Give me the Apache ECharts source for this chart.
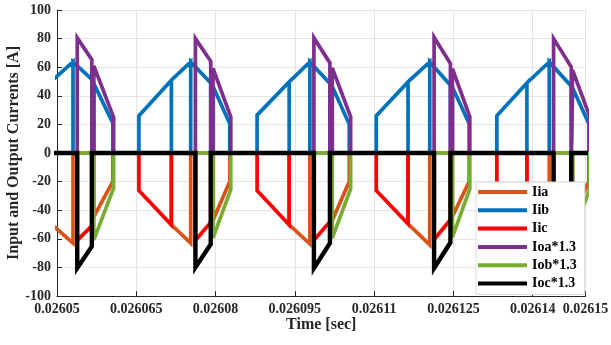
<!DOCTYPE html>
<html>
<head>
<meta charset="utf-8">
<title>Input and Output Currents</title>
<script src="https://cdn.jsdelivr.net/npm/echarts@6/dist/echarts.min.js"></script>
<style>
  html, body { margin: 0; padding: 0; background: #ffffff; }
  #chart { width: 611px; height: 345px; }
</style>
</head>
<body>
<div id="chart"></div>
<script>
// Time axis origin in seconds; sample times below are microseconds after it.
const T0 = 0.02605;

// Tick labels of the time axis (one every 15 us, plus the axis end).
const xTickLabels = ['0.02605', '0.026065', '0.02608', '0.026095', '0.02611', '0.026125', '0.02614', '0.02615'];

// Legend / series names.
const seriesNames = ['Iia', 'Iib', 'Iic', 'Ioa*1.3', 'Iob*1.3', 'Ioc*1.3'];

// Input current phase a  [time (us after T0), current (A)]
const iia = [
  [-1.5, 0], [-0.8, 0], [-0.8, -50.5], [3.03, -63], [3.03, 0], [6.97, 0], [6.97, -44.4], [10.57, -20], [10.57, 0],
  [21.64, 0], [21.64, -50.2], [25.30, -63], [25.30, 0], [29.52, 0], [29.52, -47], [32.69, -20], [32.69, 0],
  [43.93, 0], [43.93, -50.2], [47.85, -63.5], [47.85, 0], [52.08, 0], [52.08, -47.2], [55.30, -20], [55.30, 0],
  [66.42, 0], [66.42, -49.5], [70.53, -64.2], [70.53, 0], [74.82, 0], [74.82, -44.4], [77.98, -20], [77.98, 0],
  [88.91, 0], [88.91, -49.5], [93.14, -64], [93.14, 0], [97.56, 0], [97.56, -44.5], [100.63, -20], [100.63, 0], [101.5, 0]
];

// Input current phase b
const iib = [
  [-1.5, 0], [-0.8, 0], [-0.8, 51], [3.03, 63.7], [3.03, 0], [3.03, 63.7], [6.59, 51.5], [6.59, 0], [6.97, 0], [6.97, 48.5], [10.57, 20.8], [10.57, 0],
  [15.50, 0], [15.50, 26], [21.64, 50.9], [21.64, 0], [21.64, 50.9], [25.30, 63.7], [25.30, 0], [25.30, 63.7], [29.09, 49], [29.09, 0], [29.52, 0], [29.52, 46.5], [32.69, 20.5], [32.69, 0],
  [37.86, 0], [37.86, 26.5], [43.93, 49.7], [43.93, 0], [43.93, 49.7], [47.85, 63.7], [47.85, 0], [47.85, 63.7], [51.64, 48.6], [51.64, 0], [52.08, 0], [52.08, 46.5], [55.30, 20.2], [55.30, 0],
  [60.41, 0], [60.41, 26], [66.42, 49.7], [66.42, 0], [66.42, 49.7], [70.53, 63.7], [70.53, 0], [70.53, 63.7], [74.44, 47.4], [74.44, 0], [74.82, 0], [74.82, 46], [77.98, 20.7], [77.98, 0],
  [83.23, 0], [83.23, 26], [88.91, 49], [88.91, 0], [88.91, 49], [93.14, 63.7], [93.14, 0], [93.14, 63.7], [97.31, 46.7], [97.31, 0], [97.56, 0], [97.56, 45.5], [100.63, 20.5], [100.63, 0], [101.5, 0]
];

// Input current phase c
const iic = [
  [-1.5, 0], [3.83, 0], [3.83, -61], [6.59, -51], [6.59, 0],
  [15.50, 0], [15.50, -26.3], [21.64, -50.2], [21.64, 0], [26.19, 0], [26.19, -61], [29.09, -48.5], [29.09, 0],
  [37.86, 0], [37.86, -26.3], [43.93, -50.2], [43.93, 0], [48.61, 0], [48.61, -61], [51.64, -48], [51.64, 0],
  [60.41, 0], [60.41, -26.3], [66.42, -49.5], [66.42, 0], [71.35, 0], [71.35, -60.5], [74.44, -46.7], [74.44, 0],
  [83.23, 0], [83.23, -26], [88.91, -49.5], [88.91, 0], [93.96, 0], [93.96, -60], [97.31, -47], [97.31, 0], [101.5, 0]
];

// Output current phase a, scaled by 1.3
const ioa = [
  [-1.5, 0], [3.83, 0], [3.83, 80.5], [6.59, 65.3], [6.59, 0], [6.97, 0], [6.97, 60.9], [10.71, 24.9], [10.71, 0],
  [26.19, 0], [26.19, 80], [29.09, 64.2], [29.09, 0], [29.52, 0], [29.52, 59.1], [32.88, 25.3], [32.88, 0],
  [48.61, 0], [48.61, 80.5], [51.64, 63], [51.64, 0], [52.08, 0], [52.08, 59.5], [55.56, 25.3], [55.56, 0],
  [71.35, 0], [71.35, 81], [74.44, 62.6], [74.44, 0], [74.82, 0], [74.82, 59], [78.11, 25.3], [78.11, 0],
  [93.96, 0], [93.96, 80], [97.31, 60.2], [97.31, 0], [97.56, 0], [97.56, 57.9], [100.82, 25.2], [100.82, 0], [101.5, 0]
];

// Output current phase b, scaled by 1.3
const iob = [
  [-1.5, 0], [6.97, 0], [6.97, -60.7], [10.71, -24.6], [10.71, 0],
  [29.52, 0], [29.52, -59.5], [32.88, -25.5], [32.88, 0],
  [52.08, 0], [52.08, -59.5], [55.56, -25.1], [55.56, 0],
  [74.82, 0], [74.82, -58.8], [78.11, -25.1], [78.11, 0],
  [97.56, 0], [97.56, -58], [100.82, -25], [100.82, 0], [101.5, 0]
];

// Output current phase c, scaled by 1.3
const ioc = [
  [-1.5, 0], [3.83, 0], [3.83, -80.5], [6.59, -65.3], [6.59, 0],
  [26.19, 0], [26.19, -80], [29.09, -63.7], [29.09, 0],
  [48.61, 0], [48.61, -80.5], [51.64, -63], [51.64, 0],
  [71.35, 0], [71.35, -80.5], [74.44, -62.6], [74.44, 0],
  [93.96, 0], [93.96, -80], [97.31, -61], [97.31, 0], [101.5, 0]
];

const seriesData = [iia, iib, iic, ioa, iob, ioc];
const seriesColors = ['#D95319', '#0072BD', '#FF0000', '#7E2F8E', '#77AC30', '#000000'];
const seriesWidths = [3.7, 3.7, 3.7, 3.7, 3.7, 4.4];

const FONT = '"Liberation Serif", "Times New Roman", serif';
const AXIS_COLOR = '#262626';
const GRID_COLOR = '#e4e4e4';

const chart = echarts.init(document.getElementById('chart'), null, { renderer: 'canvas' });

const option = {
  animation: false,
  backgroundColor: '#ffffff',
  grid: {
    left: 57, right: 25.5, top: 10, bottom: 49,
    containLabel: false,
    outerBoundsMode: 'none'
  },
  xAxis: {
    type: 'value',
    min: 0, max: 100, interval: 15,
    name: 'Time [sec]',
    nameLocation: 'middle',
    nameGap: 21,
    nameMoveOverlap: false,
    nameTextStyle: { fontFamily: FONT, fontWeight: 'bold', fontSize: 16, color: AXIS_COLOR },
    axisLine: { show: true, onZero: false, lineStyle: { color: AXIS_COLOR, width: 1 } },
    axisTick: { show: true, inside: true, length: 5, lineStyle: { color: AXIS_COLOR, width: 1 } },
    splitLine: { show: true, lineStyle: { color: GRID_COLOR, width: 1 } },
    axisLabel: {
      show: true, margin: 6,
      showMinLabel: true, showMaxLabel: true, hideOverlap: false,
      fontFamily: FONT, fontWeight: 'bold', fontSize: 14, color: AXIS_COLOR,
      formatter: v => (v >= 100 ? xTickLabels[xTickLabels.length - 1] : xTickLabels[Math.round(v / 15)])
    }
  },
  yAxis: {
    type: 'value',
    min: -100, max: 100, interval: 20,
    name: 'Input and Output Currents [A]',
    nameLocation: 'middle',
    nameRotate: 90,
    nameGap: 35,
    nameMoveOverlap: false,
    nameTextStyle: { fontFamily: FONT, fontWeight: 'bold', fontSize: 16, color: AXIS_COLOR },
    axisLine: { show: true, onZero: false, lineStyle: { color: AXIS_COLOR, width: 1 } },
    axisTick: { show: true, inside: true, length: 5, lineStyle: { color: AXIS_COLOR, width: 1 } },
    splitLine: { show: true, lineStyle: { color: GRID_COLOR, width: 1 } },
    axisLabel: {
      show: true, margin: 6,
      showMinLabel: true, showMaxLabel: true,
      fontFamily: FONT, fontWeight: 'bold', fontSize: 14, color: AXIS_COLOR
    }
  },
  legend: {
    show: true,
    orient: 'vertical',
    left: 476, top: 182,
    padding: [3, 8, 4, 2],
    itemWidth: 49, itemHeight: 14, itemGap: 4.3,
    icon: 'path://M0,0H49V4H0Z',
    backgroundColor: '#ffffff',
    borderColor: '#dadada', borderWidth: 1, borderRadius: 0,
    selectedMode: false,
    textStyle: { fontFamily: FONT, fontWeight: 'bold', fontSize: 14, color: '#000000' },
    data: seriesNames
  },
  series: seriesNames.map((name, i) => ({
    name: name,
    type: 'line',
    data: seriesData[i],
    color: seriesColors[i],
    symbol: 'none',
    showSymbol: false,
    clip: true,
    silent: true,
    lineStyle: { color: seriesColors[i], width: seriesWidths[i], join: 'miter', miterLimit: 4 },
    emphasis: { disabled: true }
  }))
};

chart.setOption(option);
</script>
</body>
</html>
